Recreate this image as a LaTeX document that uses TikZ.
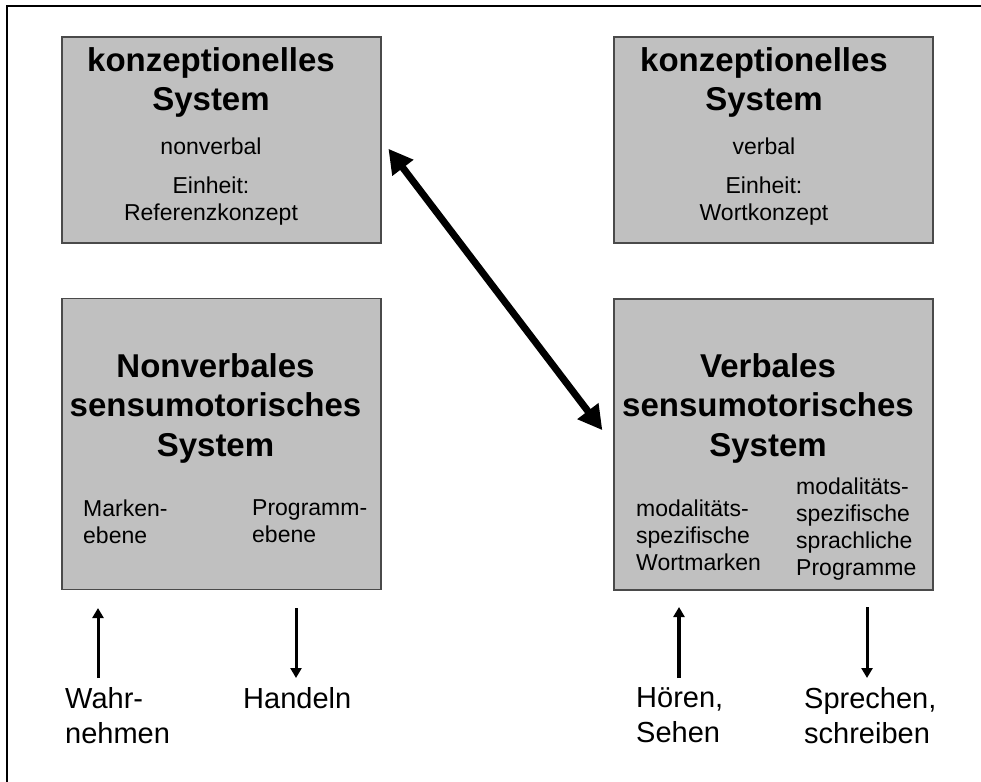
\documentclass[tikz,border=0pt]{standalone}
\usepackage{fontspec}
\setmainfont{Liberation Sans}
\usetikzlibrary{arrows.meta}
\definecolor{boxfill}{HTML}{C0C0C0}
\definecolor{boxline}{HTML}{4A4A4A}
\begin{document}
\begin{tikzpicture}[x=1pt,y=-1pt,
  sysbox/.style={draw=boxline, fill=boxfill, line width=1.5pt, minimum width=319pt, inner sep=0pt},
  head/.style={font=\fontsize{33}{39.5}\selectfont\bfseries, align=center, inner sep=0pt},
  sub/.style={font=\fontsize{23}{27}\selectfont, align=center, inner sep=0pt},
  side/.style={font=\fontsize{23}{27}\selectfont, align=left, inner sep=0pt, anchor=west},
  io/.style={font=\fontsize{29}{35}\selectfont, align=left, inner sep=0pt, anchor=west},
  flow/.style={line width=3pt, -{Triangle[length=10pt,width=11pt]}},
  link/.style={line width=7pt, {Triangle[length=24pt,width=25pt]}-{Triangle[length=24pt,width=25pt]}, shorten <=11pt, shorten >=18pt}
]
\useasboundingbox[fill=white] (0,0) rectangle (981,781);
% frame
\draw[line width=2.5pt] (995,6) -- (7,6) -- (7,795);
% boxes
\node[sysbox, minimum height=206pt] (tl) at (221.5,140) {};
\node[sysbox, minimum height=206pt] (tr) at (773.5,140) {};
\node[sysbox, minimum height=291pt] (bl) at (221.5,444) {};
\node[sysbox, minimum height=291pt] (br) at (773.5,444.5) {};
% texts top left
\node[head] (tlh) at (211,82.5) {konzeptionelles\\System};
\node[sub] (tls1) at (211,146) {nonverbal};
\node[sub] (tls2) at (211,201.5) {Einheit:\\Referenzkonzept};
% texts top right
\node[head] (trh) at (764,82.5) {konzeptionelles\\System};
\node[sub] (trs1) at (764,146) {verbal};
\node[sub] (trs2) at (764,201.5) {Einheit:\\Wortkonzept};
% bottom left
\node[head] (blh) at (215.5,408) {Nonverbales\\sensumotorisches\\System};
\node[side] (blm) at (83,521.5) {Marken-\\ebene};
\node[side] (blp) at (252,521.5) {Programm-\\ebene};
% bottom right
\node[head] (brh) at (768,408) {Verbales\\sensumotorisches\\System};
\node[side] (brm) at (636,535) {modalitäts-\\spezifische\\Wortmarken};
\node[side] (brp) at (796,529) {modalitäts-\\spezifische\\sprachliche\\Programme};
% input/output labels
\node[io] (wahr) at (65,715.5) {Wahr-\\nehmen};
\node[io] (hand) at (243,698) {Handeln};
\node[io] (hoer) at (636,715.5) {Hören,\\Sehen};
\node[io] (spre) at (804,715.5) {Sprechen,\\schreiben};
% arrow end points
\coordinate (wahrA) at (98,678);
\coordinate (wahrB) at (98,608);
\coordinate (handA) at (296,608);
\coordinate (handB) at (296,678);
\coordinate (hoerA) at (679,678);
\coordinate (hoerB) at (679,607);
\coordinate (spreA) at (867,607);
\coordinate (spreB) at (867,678);
\draw[flow] (wahrA) -- (wahrB);
\draw[flow] (handA) -- (handB);
\draw[flow, line width=3.6pt] (hoerA) -- (hoerB);
\draw[flow] (spreA) -- (spreB);
% link between conceptual and verbal systems
\draw[link] (tl.east) -- (br.west);
\end{tikzpicture}
\end{document}
